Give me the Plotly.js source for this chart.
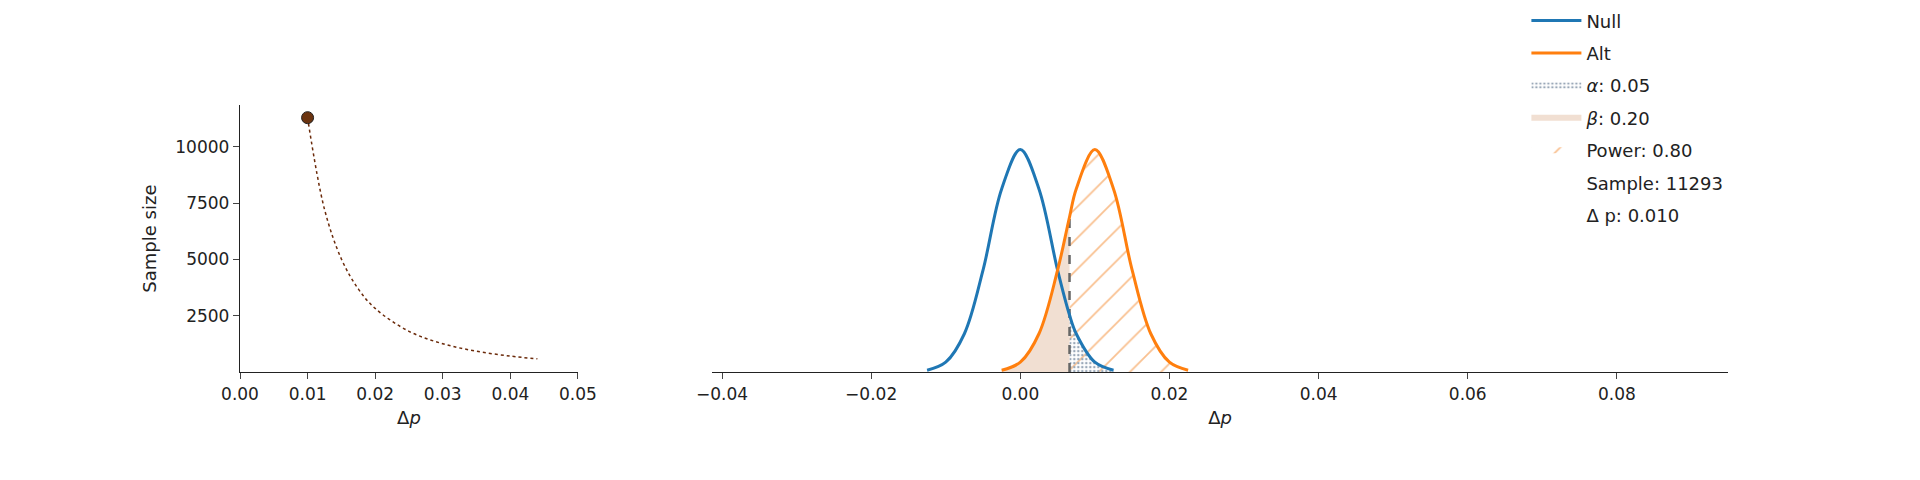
<!DOCTYPE html>
<html>
<head>
<script src="https://cdn.plot.ly/plotly-3.0.1.min.js"></script>
<style>body{margin:0}#chart{width:1920px;height:480px}</style>
</head>
<body>
<div id="chart"></div>
<script>
// sample size vs effect size
var deltaP = [0.01, 0.0125, 0.015, 0.0175, 0.02, 0.025, 0.03, 0.035, 0.04, 0.044];
var sampleSize = [11293, 7228, 5019, 3688, 2823, 1807, 1255, 922, 706, 583];
var yTicks = [2500, 5000, 7500, 10000];

// null / alt densities (relative height)
var nullX = [-0.0125, -0.01, -0.0075, -0.005, -0.0025, 0, 0.0025, 0.005, 0.0066, 0.0075, 0.01, 0.0125];
var nullY = [0.008, 0.044, 0.172, 0.458, 0.823, 1, 0.823, 0.458, 0.256, 0.172, 0.044, 0.008];
var altX = [-0.0025, 0, 0.0025, 0.005, 0.0066, 0.0075, 0.01, 0.0125, 0.015, 0.0175, 0.02, 0.0225];
var altY = [0.008, 0.044, 0.172, 0.458, 0.697, 0.823, 1, 0.823, 0.458, 0.172, 0.044, 0.008];
var critical = 0.0066;
var critHeight = 0.697;

function part(xs, ys, test) {
    var px = [], py = [];
    xs.forEach(function(x, i) { if (test(x)) { px.push(x); py.push(ys[i]); } });
    return {x: px, y: py};
}
var beta = part(altX, altY, function(x) { return x <= critical; });
var power = part(altX, altY, function(x) { return x >= critical; });
var alpha = part(nullX, nullY, function(x) { return x >= critical; });

var traces = [
    {x: deltaP, y: sampleSize, mode: 'lines', line: {color: '#6b2a0a', dash: 'dot', width: 1.5, shape: 'spline'},
     xaxis: 'x', yaxis: 'y', showlegend: false},
    {x: [deltaP[0]], y: [sampleSize[0]], mode: 'markers', marker: {color: '#6b3410', size: 12, line: {color: '#222', width: 1}},
     xaxis: 'x', yaxis: 'y', showlegend: false},
    {x: beta.x, y: beta.y, mode: 'none', fill: 'tozeroy', fillcolor: 'rgba(240,220,205,0.9)', line: {shape: 'spline'},
     xaxis: 'x2', yaxis: 'y2', name: '<i>β</i>: 0.20', legendrank: 4, legendgroup: 'b'},
    {x: power.x, y: power.y, mode: 'none', fill: 'tozeroy', line: {shape: 'spline'},
     fillpattern: {shape: '/', fgcolor: '#f9c08f', bgcolor: 'rgba(0,0,0,0)', size: 22, solidity: 0.08},
     xaxis: 'x2', yaxis: 'y2', name: 'Power: 0.80', legendrank: 5, legendgroup: 'p'},
    {x: alpha.x, y: alpha.y, mode: 'none', fill: 'tozeroy', line: {shape: 'spline'},
     fillpattern: {shape: '.', fgcolor: '#9aa8b8', bgcolor: 'rgba(0,0,0,0)', size: 4, solidity: 0.3},
     fillcolor: '#a0b0c0',
     xaxis: 'x2', yaxis: 'y2', name: '<i>α</i>: 0.05', legendrank: 3, legendgroup: 'a'},
    {x: [critical, critical], y: [0, critHeight], mode: 'lines', line: {color: '#666', dash: 'dash', width: 2.5},
     xaxis: 'x2', yaxis: 'y2', showlegend: false},
    {x: nullX, y: nullY, mode: 'lines', line: {color: '#1f77b4', width: 3, shape: 'spline'},
     xaxis: 'x2', yaxis: 'y2', name: 'Null', legendrank: 1, legendgroup: 'n'},
    {x: altX, y: altY, mode: 'lines', line: {color: '#ff7f0e', width: 3, shape: 'spline'},
     xaxis: 'x2', yaxis: 'y2', name: 'Alt', legendrank: 2, legendgroup: 'l'},
    {x: [null], y: [null], mode: 'lines', line: {color: 'rgba(0,0,0,0)'}, xaxis: 'x2', yaxis: 'y2',
     name: 'Sample: 11293', legendrank: 6, legendgroup: 's'},
    {x: [null], y: [null], mode: 'lines', line: {color: 'rgba(0,0,0,0)'}, xaxis: 'x2', yaxis: 'y2',
     name: 'Δ p: 0.010', legendrank: 7, legendgroup: 'd'}
];

var tickFont = {family: 'DejaVu Sans', size: 17, color: '#222'};
var layout = {
    width: 1920, height: 480,
    margin: {l: 0, r: 0, t: 0, b: 0},
    paper_bgcolor: 'white', plot_bgcolor: 'white',
    font: {family: 'DejaVu Sans', size: 18, color: '#222'},
    xaxis: {domain: [0.125, 0.301], range: [0, 0.05], dtick: 0.01, tickformat: '.2f',
        showline: true, linecolor: '#222', linewidth: 1.2, ticks: 'outside', ticklen: 6,
        showgrid: false, zeroline: false, tickfont: tickFont, anchor: 'y',
        title: {text: 'Δ<i>p</i>', font: {size: 18}, standoff: 8}},
    yaxis: {domain: [0.225, 0.781], range: [0, 11850], tickvals: yTicks, ticktext: yTicks.map(String),
        showline: true, linecolor: '#222', linewidth: 1.2, ticks: 'outside', ticklen: 6,
        showgrid: false, zeroline: false, tickfont: tickFont, anchor: 'x',
        title: {text: 'Sample size', font: {size: 18}, standoff: 14}},
    xaxis2: {domain: [0.371, 0.9], range: [-0.0413, 0.0949], dtick: 0.02, tickformat: '.2f',
        showline: true, linecolor: '#222', linewidth: 1.2, ticks: 'outside', ticklen: 6,
        showgrid: false, zeroline: false, tickfont: tickFont, anchor: 'y2',
        title: {text: 'Δ<i>p</i>', font: {size: 18}, standoff: 8}},
    yaxis2: {domain: [0.225, 0.781], range: [0, 1.2], visible: false, anchor: 'x2'},
    legend: {x: 0.795, y: 0.995, xanchor: 'left', yanchor: 'top', bgcolor: 'rgba(0,0,0,0)',
        font: {family: 'DejaVu Sans', size: 18}, tracegroupgap: 6, itemwidth: 50},
    showlegend: true
};

Plotly.newPlot('chart', traces, layout, {staticPlot: true});
</script>
</body>
</html>
